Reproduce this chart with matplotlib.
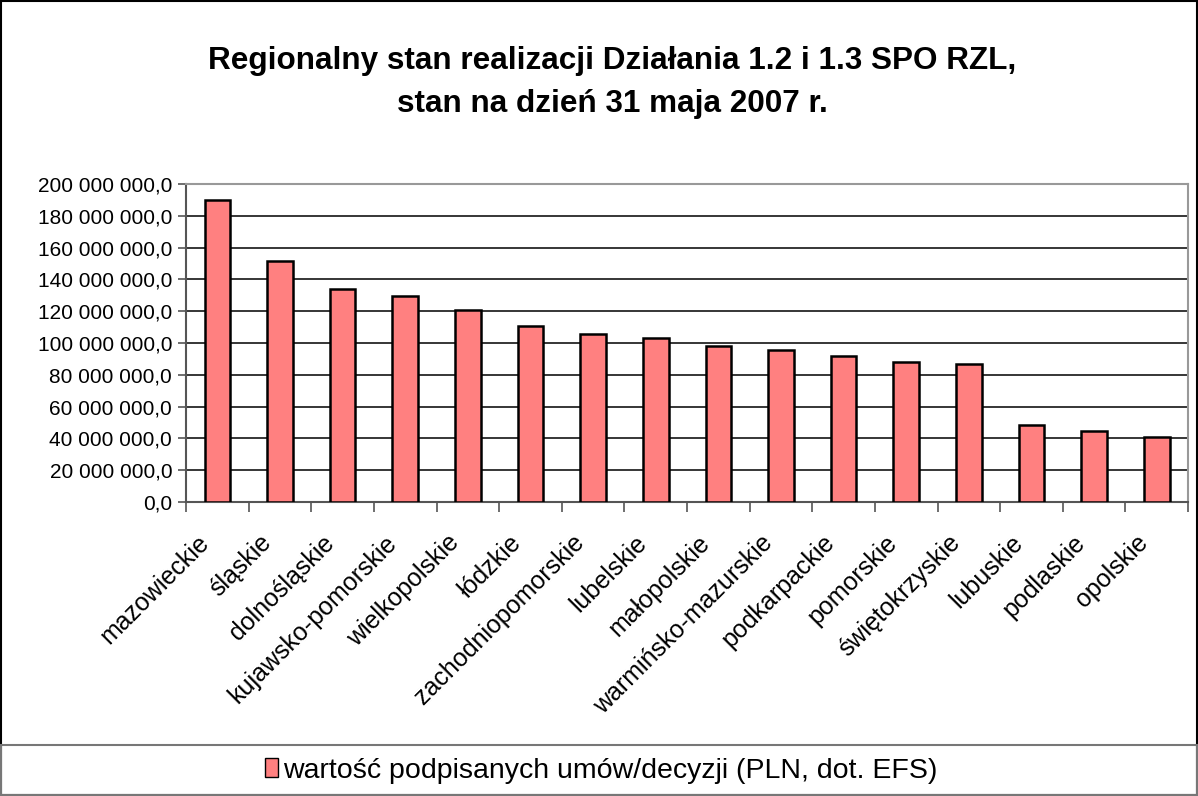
import numpy as np
import matplotlib.pyplot as plt
from matplotlib.patches import Rectangle, Patch
from matplotlib.transforms import ScaledTranslation

regions = ["mazowieckie", "śląskie", "dolnośląskie", "kujawsko-pomorskie",
           "wielkopolskie", "łódzkie", "zachodniopomorskie", "lubelskie",
           "małopolskie", "warmińsko-mazurskie", "podkarpackie", "pomorskie",
           "świętokrzyskie", "lubuskie", "podlaskie", "opolskie"]
values = [190.0e6, 151.5e6, 134.0e6, 129.3e6, 120.7e6, 110.6e6, 105.6e6, 103.0e6,
          98.0e6, 95.6e6, 92.0e6, 88.2e6, 87.0e6, 48.4e6, 44.8e6, 41.1e6]
yticks = np.arange(0, 200e6 + 1, 20e6)
legend_label = "wartość podpisanych umów/decyzji (PLN, dot. EFS)"

plt.rcParams['font.family'] = ['Liberation Sans', 'DejaVu Sans']

fig = plt.figure(figsize=(11.98, 7.96), dpi=100)
ax = fig.add_axes([0.1553, 0.3693, 0.8364, 0.3995])

x = np.arange(len(regions))
ax.bar(x, values, width=0.41, color="#FF8080", edgecolor="black", linewidth=1.8, zorder=3)

ax.set_xlim(-0.5, len(regions) - 0.5)
ax.set_ylim(0, 200e6)
ax.set_yticks(yticks)
ax.set_yticklabels(["{:,.0f}".format(v).replace(",", " ") + ",0" for v in yticks], fontsize=15)
ax.yaxis.grid(True, color="black", linewidth=1.1, zorder=0)

ax.set_xticks(x)
ax.set_xticklabels(regions, rotation=45, ha="right", rotation_mode="anchor", fontsize=18)
ax.tick_params(axis="x", length=0, pad=22)
shift = ScaledTranslation(-0.21, 0.02, fig.dpi_scale_trans)
for lbl in ax.get_xticklabels():
    lbl.set_transform(lbl.get_transform() + shift)
ax.set_xticks(np.arange(-0.5, len(regions), 1), minor=True)
ax.tick_params(axis="x", which="minor", length=7, width=1.2, color="#555555")
ax.tick_params(axis="y", length=6, width=1.2, color="#555555", pad=4)

for s in ["top", "right"]:
    ax.spines[s].set_color("#999999")
    ax.spines[s].set_linewidth(1.5)
for s in ["left", "bottom"]:
    ax.spines[s].set_color("#555555")
    ax.spines[s].set_linewidth(1.5)

fig.text(0.511, 0.923, "Regionalny stan realizacji Działania 1.2 i 1.3 SPO RZL,",
         ha="center", va="center", fontsize=22.7, fontweight="bold")
fig.text(0.511, 0.869, "stan na dzień 31 maja 2007 r.",
         ha="center", va="center", fontsize=22.7, fontweight="bold")

# outer frame and legend box
fig.patches.append(Rectangle((0.001, 0.001), 0.998, 0.998, transform=fig.transFigure,
                             fill=False, edgecolor="black", linewidth=1.5))
fig.patches.append(Rectangle((0.001, 0.001), 0.998, 0.063, transform=fig.transFigure,
                             fill=False, edgecolor="#777777", linewidth=1.5))
handle = Patch(facecolor="#FF8080", edgecolor="black", linewidth=1)
fig.legend([handle], [legend_label], loc="center", bbox_to_anchor=(0.502, 0.032),
           frameon=False, fontsize=20.5, handlelength=0.45, handleheight=0.65,
           handletextpad=0.2)

fig.savefig("out.png", dpi=100)
